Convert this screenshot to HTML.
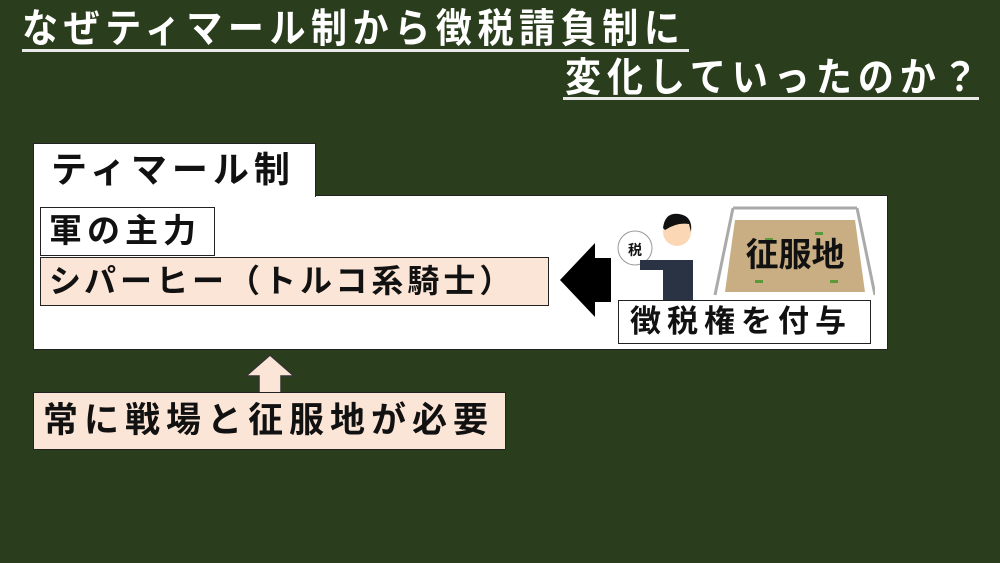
<!DOCTYPE html>
<html><head><meta charset="utf-8"><style>
body{margin:0;width:1000px;height:563px;background:#2a3d1c;position:relative;overflow:hidden;font-family:"Liberation Sans","Noto Sans CJK JP",sans-serif;}
.a{position:absolute;box-sizing:border-box;}
.t{color:#fff;font-weight:bold;font-size:36px;line-height:40px;white-space:nowrap;transform:scaleY(1.1);transform-origin:top left;}
.ul{background:#e8e8e8;height:3px;}
.box{border:1.5px solid #222;background:#fff;color:#111;font-weight:bold;white-space:nowrap;}
</style></head><body>
<div class="a t" style="left:22px;top:7px;letter-spacing:5.6px">なぜティマール制から徴税請負制に</div>
<div class="a ul" style="left:22px;top:49px;width:667px"></div>
<div class="a t" style="left:565px;top:56px;letter-spacing:6px">変化していったのか？</div>
<div class="a ul" style="left:563px;top:97px;width:416px"></div>

<div class="a box" style="left:33px;top:195px;width:855px;height:155px"></div>
<div class="a box" style="left:33px;top:143px;width:283px;height:54px;border-bottom:none;font-size:36px;line-height:52px;padding-left:17px;letter-spacing:5px">ティマール制</div>
<div class="a box" style="left:40px;top:207px;width:175px;height:49px;font-size:33px;line-height:46px;padding-left:8px;letter-spacing:5px">軍の主力</div>
<div class="a box" style="left:40px;top:257px;width:509px;height:49px;background:#fbe5d6;font-size:32px;line-height:46px;padding-left:8px;letter-spacing:4px">シパーヒー（トルコ系騎士）</div>

<svg class="a" style="left:555px;top:235px" width="60" height="95"><polygon points="5,45 40,8 40,23 56,23 56,67 40,67 40,82" fill="#000"/></svg>

<svg class="a" style="left:615px;top:200px" width="260" height="100">
<polygon points="120,20 240,20 250,92 110,92" fill="#c9ae84"/>
<g stroke="#aaa" stroke-width="3"><line x1="118" y1="8" x2="242" y2="8"/><line x1="118" y1="8" x2="100" y2="95"/><line x1="242" y1="8" x2="260" y2="95"/></g>
<g fill="#5a9a3a"><rect x="150" y="38" width="8" height="3"/><rect x="200" y="32" width="8" height="3"/><rect x="140" y="80" width="8" height="3"/><rect x="215" y="80" width="8" height="3"/></g>
<text x="180" y="66" text-anchor="middle" font-size="33" font-weight="bold" fill="#111" font-family="Liberation Sans,Noto Sans CJK JP,sans-serif">征服地</text>
<ellipse cx="20" cy="48" rx="17" ry="17" fill="#fff" stroke="#999"/>
<text x="20" y="55" text-anchor="middle" font-size="14" font-weight="bold" fill="#111" font-family="Noto Sans CJK JP,sans-serif">税</text>
<rect x="48" y="60" width="30" height="40" fill="#2a3344"/>
<rect x="25" y="60" width="35" height="10" fill="#2a3344"/>
<circle cx="62" cy="32" r="14" fill="#fbd7b5"/>
<path d="M48 28 Q50 12 64 14 Q78 16 76 32 L74 24 Q62 22 50 30Z" fill="#111"/>
</svg>
<div class="a box" style="left:618px;top:300px;width:253px;height:44px;font-size:31px;line-height:41px;padding-left:11px;letter-spacing:6px">徴税権を付与</div>

<svg class="a" style="left:243px;top:352px" width="54" height="42"><polygon points="27,3 51,24 38,24 38,41 16,41 16,24 3,24" fill="#fbe5d6" stroke="#333" stroke-width="1.5"/></svg>
<div class="a box" style="left:33px;top:392px;width:473px;height:58px;background:#fbe5d6;font-size:35px;line-height:55px;padding-left:9px;letter-spacing:6px">常に戦場と征服地が必要</div>
</body></html>
